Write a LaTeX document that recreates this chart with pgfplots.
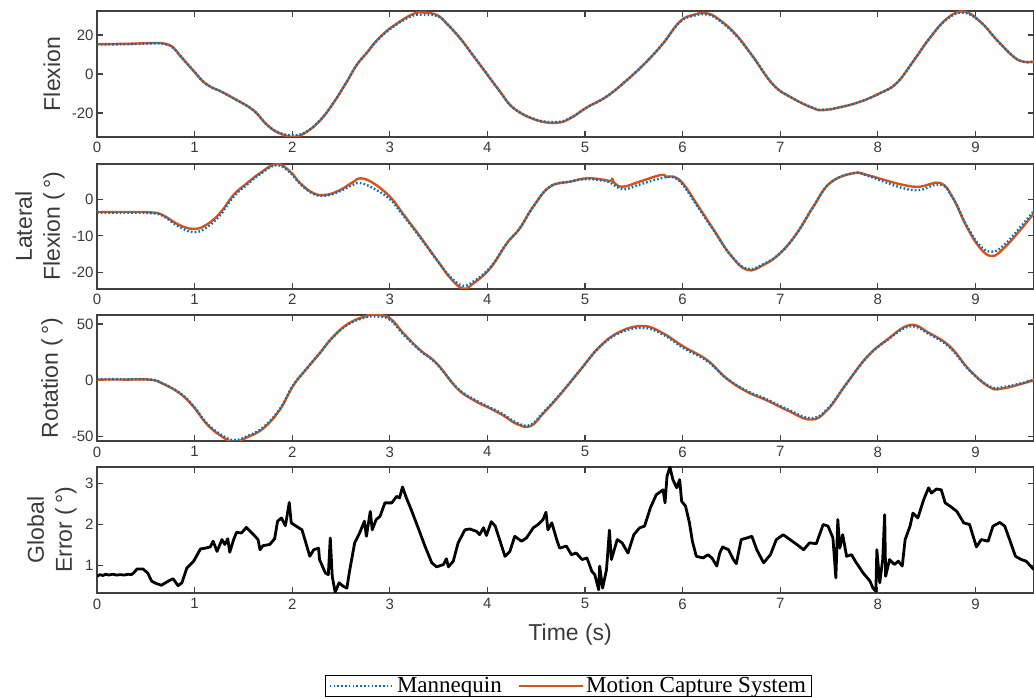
\documentclass[border=0pt]{standalone}
\usepackage{pgfplots}
\pgfplotsset{compat=1.18}
\usepackage{fontspec}
\setmainfont{Liberation Serif}
\newfontfamily\arial{Liberation Sans}
\definecolor{mblue}{HTML}{0072BD}
\definecolor{mred}{HTML}{D95319}
\definecolor{axcol}{HTML}{404040}
\definecolor{txtcol}{HTML}{3A3A3A}
\newcommand\ticfont{\arial\fontsize{15}{18}\selectfont}
\newcommand\labfont{\arial\fontsize{23}{28}\selectfont}
\newcommand\legfont{\fontsize{23}{26}\selectfont}
\pgfplotsset{
  myax/.style={
    scale only axis, width=937pt, height=126pt,
    xmin=0, xmax=9.6, xtick={0,1,...,9},
    tick align=inside, major tick length=6pt,
    axis line style={draw=axcol, line width=1.1pt},
    every tick/.style={draw=axcol, line width=1.1pt},
    tick label style={font=\ticfont, text=txtcol},
    xticklabel style={yshift=-2pt},
    /pgf/number format/assume math mode=true,
    ylabel style={font=\labfont, text=txtcol, align=center, anchor=center},
    anchor=south west,
  },
  redl/.style={color=mred, line width=2.4pt, smooth, tension=0.7, line join=round},
  bluel/.style={color=mblue, line width=2.4pt, smooth, tension=0.7, dash pattern=on 1.6pt off 2.2pt},
}
\begin{document}
\begin{tikzpicture}
\useasboundingbox (0,0) rectangle (1034pt,698pt);
% ---------- Flexion
\begin{axis}[myax, at={(97pt,561pt)}, ymin=-32.3, ymax=32.3, ytick={-20,0,20},
  ylabel={Flexion}, ylabel style={at={(axis description cs:-0.048,0.5)}}]
\addplot[redl] coordinates {(0,15.3)(0.2,15.4)(0.4,15.6)(0.6,15.9)(0.7,15.5)(0.78,13.6)(0.86,8.9)(1.0,1.0)(1.09,-4.0)(1.18,-7.0)(1.26,-8.7)(1.4,-12.5)(1.6,-18.5)(1.74,-26)(1.87,-30.4)(2.02,-32.2)(2.15,-29.6)(2.29,-23.6)(2.42,-15)(2.56,-3.9)(2.66,4.6)(2.76,10.6)(2.87,17.4)(3.0,23.4)(3.1,26.8)(3.24,30.8)(3.34,31.5)(3.48,30.3)(3.58,26)(3.72,18.3)(3.85,9.7)(3.99,0.3)(4.13,-9.1)(4.27,-17.6)(4.5,-23.6)(4.71,-25)(4.85,-22.7)(5.02,-17.1)(5.22,-11.6)(5.43,-3.1)(5.63,6.3)(5.8,15.7)(5.97,26.8)(6.11,30.3)(6.25,31.1)(6.38,27.7)(6.55,20)(6.72,8.9)(6.93,-5.6)(7.13,-12.5)(7.34,-17.6)(7.44,-18.5)(7.61,-17.1)(7.82,-14.2)(8.02,-9.9)(8.19,-4.8)(8.36,6.3)(8.53,18.3)(8.71,28.5)(8.88,32)(9.05,26.8)(9.22,17.4)(9.39,8.9)(9.49,6.3)(9.6,6.3)};
\addplot[bluel] coordinates {(0,15.1)(0.2,15.2)(0.4,15.4)(0.6,15.7)(0.7,15.3)(0.78,13.4)(0.86,8.9)(1.0,1.0)(1.09,-4.0)(1.18,-7.0)(1.26,-8.7)(1.4,-12.5)(1.6,-18.5)(1.74,-26)(1.87,-30.2)(2.02,-31.4)(2.15,-29.4)(2.29,-23.4)(2.42,-15)(2.56,-3.9)(2.66,4.6)(2.76,10.6)(2.87,17.2)(3.0,23.0)(3.1,26.4)(3.24,30.0)(3.34,30.3)(3.48,29.8)(3.58,26)(3.72,18.3)(3.85,9.7)(3.99,0.3)(4.13,-9.1)(4.27,-17.6)(4.5,-23.4)(4.71,-24.6)(4.85,-22.5)(5.02,-17.1)(5.22,-11.6)(5.43,-3.1)(5.63,6.3)(5.8,15.7)(5.97,26.5)(6.11,29.8)(6.25,30.5)(6.38,27.3)(6.55,19.6)(6.72,8.9)(6.93,-5.6)(7.13,-12.5)(7.34,-17.4)(7.44,-18.3)(7.61,-17.1)(7.82,-14.2)(8.02,-9.9)(8.19,-4.8)(8.36,6.3)(8.53,18.3)(8.71,28.2)(8.88,31.4)(9.05,26.8)(9.22,17.4)(9.39,8.9)(9.49,6.3)(9.6,6.3)};
\end{axis}
% ---------- Lateral flexion
\begin{axis}[myax, at={(97pt,409pt)}, height=125pt, ymin=-24.5, ymax=9.6, ytick={-20,-10,0},
  ylabel={Lateral\\Flexion (\,°)}, ylabel style={at={(axis description cs:-0.061,0.5)}}]
\addplot[redl] coordinates {(0,-3.5)(0.3,-3.5)(0.55,-3.6)(0.67,-4.3)(0.84,-7)(0.99,-8.1)(1.12,-7)(1.26,-3.8)(1.4,1.2)(1.53,4.2)(1.67,7.1)(1.84,9.6)(1.98,7.5)(2.08,4.4)(2.22,1.6)(2.35,1.2)(2.49,2.5)(2.63,4.8)(2.7,5.7)(2.83,4.4)(3.0,0.7)(3.13,-3.8)(3.31,-10.2)(3.48,-16.5)(3.62,-21.5)(3.75,-24.4)(3.86,-22.9)(4.03,-18.8)(4.2,-12)(4.33,-8)(4.47,-2)(4.64,3.4)(4.85,4.8)(5.02,5.7)(5.19,5.3)(5.26,4.9)(5.28,5.6)(5.3,4.4)(5.39,3.4)(5.56,4.8)(5.78,6.6)(5.84,6.0)(5.9,6.2)(6.0,4.4)(6.14,-1.1)(6.32,-8.4)(6.49,-15.2)(6.66,-19.3)(6.83,-17.9)(7.0,-14.7)(7.17,-9.3)(7.34,-2)(7.51,4.4)(7.75,7.1)(7.89,6.6)(8.06,5.3)(8.26,3.9)(8.43,3.4)(8.64,4.4)(8.77,0.3)(8.91,-7.5)(9.05,-13.4)(9.17,-15.5)(9.29,-13.4)(9.46,-8.4)(9.6,-3.8)};
\addplot[bluel] coordinates {(0,-3.7)(0.3,-3.7)(0.55,-3.8)(0.67,-4.5)(0.84,-7.5)(0.99,-9.0)(1.12,-7.8)(1.26,-4.4)(1.4,0.7)(1.53,3.8)(1.67,6.8)(1.84,9.3)(1.98,7.2)(2.08,4.2)(2.22,1.4)(2.35,1.0)(2.49,2.2)(2.63,4.0)(2.7,4.4)(2.83,3.0)(3.0,0.0)(3.13,-4.2)(3.31,-10.4)(3.48,-16.5)(3.62,-21.2)(3.75,-23.6)(3.86,-22.4)(4.03,-18.6)(4.2,-12)(4.33,-8)(4.47,-2)(4.64,3.4)(4.85,4.8)(5.02,5.5)(5.19,5.0)(5.26,4.5)(5.39,2.7)(5.56,4.0)(5.78,5.7)(5.9,6.0)(6.0,4.0)(6.14,-1.5)(6.32,-8.6)(6.49,-15.2)(6.66,-19.0)(6.83,-17.7)(7.0,-14.7)(7.17,-9.3)(7.34,-2)(7.51,4.4)(7.75,7.1)(7.89,6.4)(8.06,4.8)(8.26,3.0)(8.43,2.5)(8.64,4.0)(8.77,0.3)(8.91,-7.2)(9.05,-12.8)(9.17,-14.3)(9.29,-12.6)(9.46,-7.6)(9.6,-3.2)};
\end{axis}
% ---------- Rotation
\begin{axis}[myax, at={(97pt,257pt)}, ymin=-54.2, ymax=58, ytick={-50,0,50},
  ylabel={Rotation (\,°)}, ylabel style={at={(axis description cs:-0.048,0.5)}}]
\addplot[redl] coordinates {(0,0.5)(0.3,0.5)(0.55,0.3)(0.67,-3)(0.85,-11.9)(0.99,-23.8)(1.12,-38.7)(1.26,-49.1)(1.4,-55)(1.53,-51.2)(1.7,-43.2)(1.87,-26.8)(2.01,-5)(2.15,10.4)(2.28,23.8)(2.42,38.7)(2.58,50.6)(2.76,57.1)(2.86,58)(3.0,55.1)(3.14,41.7)(3.31,26.8)(3.48,14.9)(3.69,-7.4)(3.86,-17.9)(4.03,-25.3)(4.16,-31.3)(4.3,-39)(4.44,-41)(4.57,-29.8)(4.74,-13.4)(4.95,8.9)(5.15,29.8)(5.36,43.2)(5.6,48.2)(5.8,41.7)(6.01,29.8)(6.25,17.9)(6.45,1.5)(6.66,-10.4)(6.86,-17.9)(7.07,-26.8)(7.31,-35.1)(7.48,-26.8)(7.68,-3)(7.89,20.8)(8.09,35.7)(8.33,49.1)(8.53,41.7)(8.74,29.8)(8.94,8.9)(9.15,-6.5)(9.28,-7.4)(9.46,-3.6)(9.6,0)};
\addplot[bluel] coordinates {(0,0.8)(0.3,0.8)(0.55,0.5)(0.67,-2.8)(0.85,-11.5)(0.99,-23.2)(1.12,-38.0)(1.26,-48.0)(1.4,-53.5)(1.53,-50.2)(1.7,-42.2)(1.87,-26.0)(2.01,-4.5)(2.15,10.4)(2.28,23.8)(2.42,38.5)(2.58,50.0)(2.76,56.0)(2.86,56.6)(3.0,54.0)(3.14,40.5)(3.31,26.3)(3.48,14.5)(3.69,-7.0)(3.86,-17.0)(4.03,-24.5)(4.16,-30.3)(4.3,-38)(4.44,-40)(4.57,-29)(4.74,-13.0)(4.95,8.9)(5.15,29.5)(5.36,42.3)(5.6,46.5)(5.8,40.5)(6.01,28.5)(6.25,17.0)(6.45,1.5)(6.66,-9.6)(6.86,-17.0)(7.07,-25.8)(7.31,-33.8)(7.48,-26)(7.68,-3)(7.89,20.5)(8.09,35.2)(8.33,47.8)(8.53,40.7)(8.74,28.8)(8.94,8.5)(9.15,-5.8)(9.28,-6.2)(9.46,-3.0)(9.6,0.4)};
\end{axis}
% ---------- Global error
\begin{axis}[myax, at={(97pt,105pt)}, ymin=0.32, ymax=3.41, ytick={1,2,3},
  ylabel={Global\\Error (\,°)}, ylabel style={at={(axis description cs:-0.048,0.5)}},
  xlabel={Time (s)}, xlabel style={font=\labfont, text=txtcol, at={(axis description cs:0.505,-0.333)}, anchor=center},
  legend columns=2,
  legend style={at={(axis description cs:0.503,-0.826)}, anchor=south, draw=black, line width=0.8pt,
    font=\legfont, inner xsep=3pt, inner ysep=0.5pt, nodes={inner sep=2pt},
    /tikz/column 2/.style={column sep=14pt}},
  legend image code/.code={\draw[#1] (0pt,0pt) -- (64pt,0pt);}]
\addplot[black, line width=2.8pt, line join=round, forget plot] coordinates {(0,0.73)(0.03,0.77)(0.06,0.75)(0.09,0.78)(0.12,0.76)(0.16,0.78)(0.2,0.76)(0.24,0.77)(0.28,0.76)(0.32,0.78)(0.35,0.77)(0.37,0.8)(0.39,0.85)(0.41,0.91)(0.47,0.91)(0.52,0.81)(0.56,0.61)(0.61,0.55)(0.66,0.51)(0.73,0.61)(0.78,0.67)(0.83,0.5)(0.87,0.57)(0.92,0.93)(0.99,1.1)(1.06,1.4)(1.11,1.42)(1.16,1.45)(1.19,1.59)(1.23,1.34)(1.28,1.63)(1.31,1.51)(1.34,1.65)(1.36,1.32)(1.4,1.63)(1.43,1.81)(1.48,1.79)(1.53,1.93)(1.57,1.83)(1.62,1.71)(1.65,1.63)(1.67,1.38)(1.7,1.48)(1.77,1.51)(1.82,1.65)(1.85,2.08)(1.89,2.16)(1.93,1.97)(1.97,2.54)(1.99,2.04)(2.04,1.96)(2.1,1.87)(2.13,1.63)(2.18,1.22)(2.22,1.38)(2.27,1.42)(2.28,1.14)(2.34,0.81)(2.37,0.77)(2.39,1.67)(2.41,0.73)(2.44,0.34)(2.48,0.57)(2.52,0.49)(2.56,0.44)(2.59,0.89)(2.64,1.55)(2.69,1.79)(2.74,2.08)(2.76,1.71)(2.8,2.32)(2.82,1.87)(2.86,2.12)(2.9,2.2)(2.95,2.53)(3.02,2.53)(3.07,2.69)(3.1,2.65)(3.13,2.92)(3.17,2.65)(3.22,2.36)(3.29,1.92)(3.36,1.47)(3.43,1.06)(3.48,0.96)(3.55,1.02)(3.58,1.16)(3.6,0.96)(3.65,1.1)(3.7,1.55)(3.77,1.87)(3.82,1.89)(3.89,1.83)(3.92,1.75)(3.96,1.92)(3.99,1.73)(4.04,2.07)(4.08,1.96)(4.13,1.59)(4.18,1.22)(4.23,1.34)(4.28,1.71)(4.35,1.59)(4.4,1.67)(4.47,1.92)(4.52,2.0)(4.57,2.12)(4.6,2.3)(4.62,1.87)(4.66,2.04)(4.71,1.63)(4.74,1.42)(4.81,1.47)(4.86,1.26)(4.91,1.3)(4.97,1.14)(5.02,1.18)(5.07,0.85)(5.1,0.77)(5.14,0.4)(5.15,0.98)(5.18,0.44)(5.22,0.89)(5.25,1.86)(5.27,1.14)(5.33,1.63)(5.38,1.55)(5.44,1.3)(5.5,1.75)(5.56,1.92)(5.61,1.96)(5.67,2.41)(5.73,2.73)(5.8,2.85)(5.82,2.53)(5.84,3.18)(5.87,3.41)(5.9,3.1)(5.94,2.9)(5.97,3.1)(5.99,2.57)(6.03,2.45)(6.07,2.04)(6.1,1.59)(6.14,1.22)(6.21,1.18)(6.26,1.26)(6.3,1.18)(6.35,0.98)(6.38,1.3)(6.41,1.45)(6.47,1.38)(6.52,1.14)(6.55,1.04)(6.6,1.63)(6.66,1.67)(6.71,1.71)(6.76,1.38)(6.83,1.06)(6.9,1.26)(6.96,1.63)(7.03,1.75)(7.1,1.63)(7.17,1.51)(7.24,1.38)(7.3,1.55)(7.37,1.53)(7.44,2.0)(7.49,1.96)(7.54,1.67)(7.57,0.69)(7.59,2.12)(7.61,1.42)(7.64,1.75)(7.68,1.22)(7.73,1.26)(7.78,1.06)(7.85,0.81)(7.92,0.61)(7.95,0.44)(7.98,0.36)(7.99,1.38)(8.02,0.57)(8.05,1.14)(8.07,2.24)(8.08,0.73)(8.12,1.14)(8.17,1.02)(8.21,1.1)(8.25,0.98)(8.28,1.63)(8.33,1.96)(8.36,2.28)(8.41,2.16)(8.47,2.61)(8.52,2.9)(8.55,2.77)(8.6,2.87)(8.65,2.85)(8.69,2.53)(8.74,2.45)(8.81,2.32)(8.88,2.04)(8.94,2.0)(9.01,1.45)(9.06,1.63)(9.13,1.59)(9.18,1.96)(9.25,2.05)(9.3,1.96)(9.35,1.63)(9.41,1.22)(9.47,1.14)(9.52,1.1)(9.6,0.89)};
\addlegendimage{color=mblue, line width=2.4pt, dash pattern=on 1.6pt off 2.2pt}
\addlegendentry{Mannequin}
\addlegendimage{color=mred, line width=2.4pt}
\addlegendentry{Motion Capture System}
\end{axis}
\end{tikzpicture}
\end{document}
